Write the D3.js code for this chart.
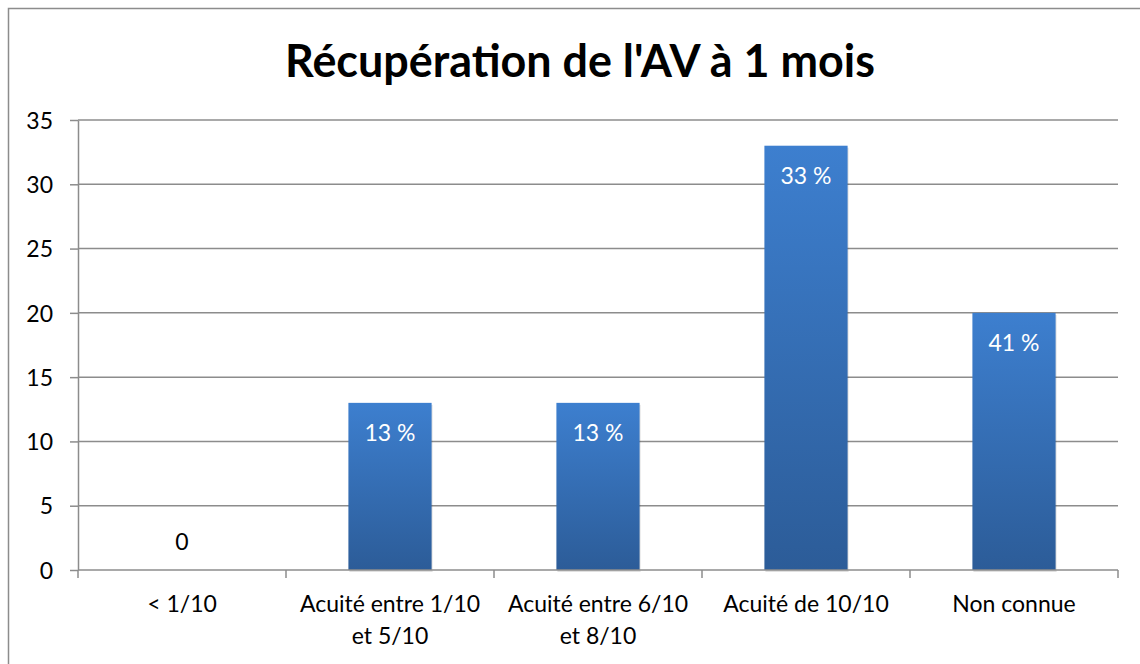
<!DOCTYPE html>
<meta charset="utf-8">
<html>
<head>
<style>
    body { margin: 0; background: #fff; }
    svg { font-family: Lato, "Open Sans", sans-serif; }
    .grid line { stroke: #8c8c8c; stroke-width: 1.5; }
    .axis path, .axis line { stroke: #8c8c8c; stroke-width: 1.5; }
    .axis text { fill: #000; font-size: 23px; font-family: Lato, "Open Sans", sans-serif; }
    .vlab { font-size: 23px; font-family: Lato, "Open Sans", sans-serif; }
</style>
</head>
<body>
<svg width="1140" height="664" id="chart-area"></svg>
<script src="https://d3js.org/d3.v7.min.js"></script>
<script>
    // data
    var categories = ["< 1/10", "Acuité entre 1/10|et 5/10", "Acuité entre 6/10|et 8/10", "Acuité de 10/10", "Non connue"];
    var values = [0, 13, 13, 33, 20];
    var labels = ["0", "13 %", "13 %", "33 %", "41 %"];
    var yTicks = [0, 5, 10, 15, 20, 25, 30, 35];

    var svg = d3.select("svg"),
        margin = { top: 120, right: 22, bottom: 94, left: 78 },
        width = +svg.attr("width") - margin.left - margin.right,
        height = +svg.attr("height") - margin.top - margin.bottom;

    // outer frame (only top and left edges are visible)
    svg.append("rect")
        .attr("x", 8.5).attr("y", 8.5)
        .attr("width", 1200).attr("height", 700)
        .attr("fill", "none")
        .attr("stroke", "#8c8c8c")
        .attr("stroke-width", 1.5);

    var defs = svg.append("defs");
    var grad = defs.append("linearGradient")
        .attr("id", "barGrad")
        .attr("x1", 0).attr("y1", 0).attr("x2", 0).attr("y2", 1);
    grad.append("stop").attr("offset", "0%").attr("stop-color", "#3d7fcf");
    grad.append("stop").attr("offset", "100%").attr("stop-color", "#2c5c98");

    var title = svg.append("text")
        .attr("x", 580).attr("y", 77)
        .attr("text-anchor", "middle")
        .style("font-weight", "bold")
        .style("font-size", "40px")
        .text("Récupération de l'AV à 1 mois");
    // squeeze to the width of the original title
    var tw = title.node().getComputedTextLength();
    title.style("font-size", (40 * 590 / tw) + "px");

    var x = d3.scaleBand().domain(categories).range([0, width]).paddingInner(0.6).paddingOuter(0.3),
        y = d3.scaleLinear().domain([0, 35]).range([height, 0]);

    var g = svg.append("g")
        .attr("transform", "translate(" + margin.left + "," + margin.top + ")");

    /* gridlines */
    g.append("g")
        .attr("class", "grid")
        .selectAll("line")
        .data(yTicks.filter(function (d) { return d > 0; }))
        .enter().append("line")
        .attr("x1", 0).attr("x2", width)
        .attr("y1", function (d) { return y(d); })
        .attr("y2", function (d) { return y(d); });

    /* y axis */
    var yAxis = g.append("g")
        .attr("class", "axis axis--y")
        .call(d3.axisLeft(y).tickValues(yTicks).tickSize(8).tickSizeOuter(0).tickPadding(17));
    yAxis.selectAll("text").attr("dy", "0.36em");

    var bars = g.selectAll(".bar")
        .data(categories.map(function (c, i) { return { cat: c, v: values[i], lab: labels[i] }; }))
        .enter();

    /* soft shadow under the bars */
    bars.filter(function (d) { return d.v > 0; })
        .append("rect")
        .attr("x", function (d) { return x(d.cat) + 1; })
        .attr("y", function (d) { return y(d.v) + 2; })
        .attr("width", x.bandwidth())
        .attr("height", function (d) { return height - y(d.v); })
        .attr("fill", "#000")
        .attr("opacity", 0.12);

    bars.filter(function (d) { return d.v > 0; })
        .append("rect")
        .attr("class", "bar")
        .attr("x", function (d) { return x(d.cat); })
        .attr("y", function (d) { return y(d.v); })
        .attr("width", x.bandwidth())
        .attr("height", function (d) { return height - y(d.v); })
        .attr("fill", "url(#barGrad)");

    /* x axis */
    var step = x.step();
    var xAxis = g.append("g")
        .attr("class", "axis axis--x")
        .attr("transform", "translate(0," + height + ")");
    xAxis.append("line").attr("x1", 0).attr("x2", width);
    xAxis.selectAll(".tk")
        .data(d3.range(categories.length + 1))
        .enter().append("line")
        .attr("x1", function (i) { return i * step; })
        .attr("x2", function (i) { return i * step; })
        .attr("y1", 0).attr("y2", 8);
    var xt = xAxis.selectAll(".lab")
        .data(categories)
        .enter().append("text")
        .attr("text-anchor", "middle")
        .attr("x", function (d) { return x(d) + x.bandwidth() / 2; })
        .attr("y", 42);
    xt.each(function (d) {
        var parts = d.split("|");
        var t = d3.select(this);
        parts.forEach(function (p, k) {
            t.append("tspan")
                .attr("x", x(d) + x.bandwidth() / 2)
                .attr("dy", k === 0 ? 0 : 32)
                .text(p);
        });
    });

    /* value labels */
    bars.append("text")
        .attr("class", "vlab")
        .attr("text-anchor", "middle")
        .attr("x", function (d) { return x(d.cat) + x.bandwidth() / 2; })
        .attr("y", function (d) { return d.v > 0 ? y(d.v) + 38 : y(d.v) - 20; })
        .attr("fill", function (d) { return d.v > 0 ? "#fff" : "#000"; })
        .text(function (d) { return d.lab; });
</script>
</body>
</html>
